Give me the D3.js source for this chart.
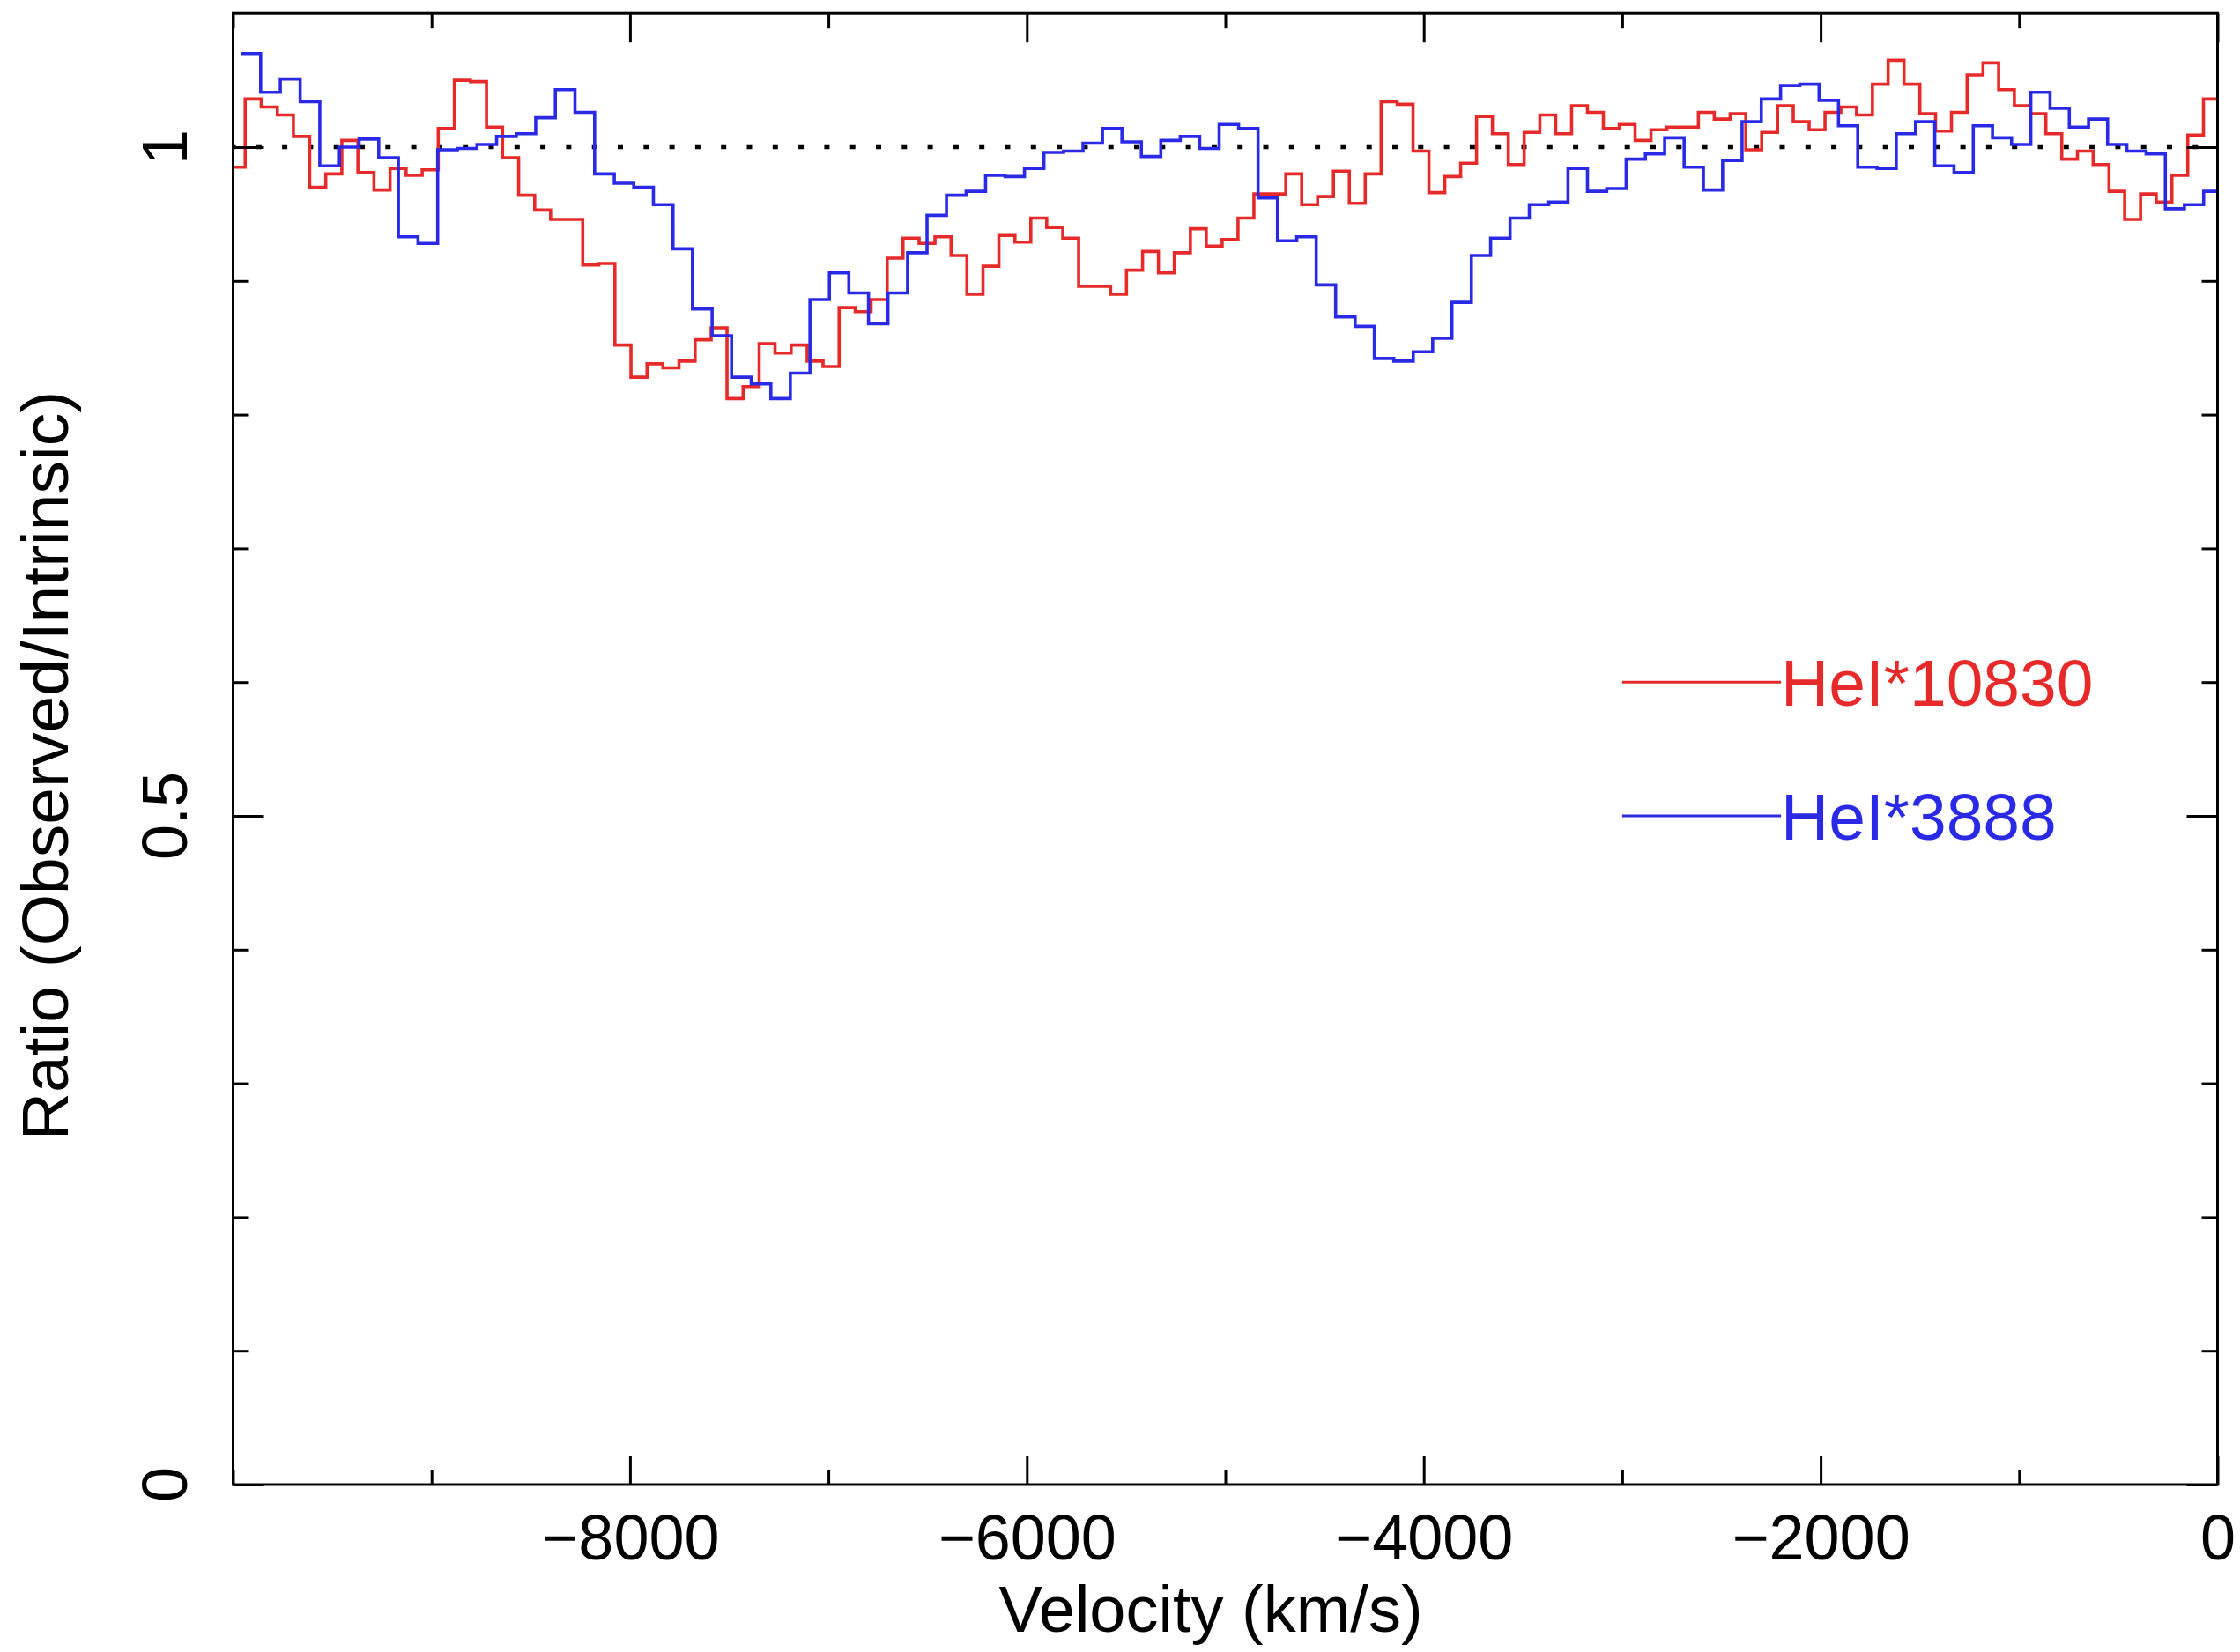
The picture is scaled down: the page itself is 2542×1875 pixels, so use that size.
<!DOCTYPE html>
<html><head><meta charset="utf-8">
<script src="https://cdn.jsdelivr.net/npm/d3@7"></script>
<style>
html,body{margin:0;padding:0;background:#fff;}
svg{display:block;}
text{font-family:"Liberation Sans",Arial,Helvetica,sans-serif;}
</style></head>
<body>
<script>
// ---------- DATA ----------
// HeI*10830 (red): bin edges (km/s) and ratio values
const redEdges = [-10020,-9939,-9858,-9777,-9696,-9614,-9533,-9452,-9371,-9290,-9209,-9128,-9047,-8966,-8885,-8804,-8723,-8642,-8561,-8480,-8400,-8319,-8238,-8157,-8076,-7995,-7914,-7834,-7753,-7672,-7591,-7511,-7430,-7349,-7269,-7188,-7107,-7027,-6946,-6865,-6785,-6704,-6624,-6543,-6463,-6382,-6302,-6221,-6141,-6060,-5980,-5900,-5819,-5739,-5658,-5578,-5498,-5417,-5337,-5257,-5176,-5096,-5016,-4936,-4856,-4775,-4695,-4615,-4535,-4455,-4375,-4295,-4215,-4134,-4054,-3974,-3894,-3814,-3734,-3654,-3574,-3494,-3415,-3335,-3255,-3175,-3095,-3015,-2935,-2855,-2775,-2696,-2616,-2536,-2456,-2377,-2297,-2217,-2138,-2058,-1978,-1898,-1819,-1739,-1660,-1580,-1500,-1421,-1341,-1262,-1182,-1103,-1024,-944,-865,-785,-706,-627,-547,-468,-388,-309,-230,-150,-71,8];
const redValues = [0.985,1.036,1.030,1.024,1.008,0.970,0.980,1.005,0.981,0.968,0.984,0.979,0.983,1.014,1.050,1.049,1.015,0.992,0.964,0.953,0.946,0.946,0.912,0.913,0.852,0.828,0.838,0.835,0.840,0.856,0.865,0.812,0.821,0.853,0.846,0.852,0.840,0.836,0.880,0.877,0.886,0.917,0.932,0.928,0.933,0.919,0.890,0.911,0.934,0.929,0.947,0.940,0.932,0.896,0.896,0.890,0.908,0.922,0.906,0.921,0.939,0.926,0.931,0.947,0.965,0.965,0.980,0.957,0.963,0.982,0.958,0.980,1.034,1.032,0.997,0.966,0.978,0.988,1.023,1.010,0.987,1.011,1.024,1.010,1.031,1.026,1.014,1.017,1.005,1.013,1.015,1.015,1.026,1.021,1.025,0.998,1.011,1.031,1.019,1.013,1.026,1.030,1.024,1.047,1.065,1.047,1.025,1.012,1.026,1.054,1.063,1.043,1.031,1.025,1.010,0.991,0.997,0.987,0.967,0.946,0.965,0.959,0.979,1.009,1.036];
// HeI*3888 (blue)
const blueEdges = [-9960,-9861,-9762,-9662,-9563,-9464,-9365,-9266,-9167,-9068,-8969,-8870,-8771,-8672,-8573,-8475,-8376,-8277,-8178,-8079,-7981,-7882,-7783,-7685,-7586,-7488,-7389,-7290,-7192,-7093,-6995,-6897,-6798,-6700,-6601,-6503,-6405,-6306,-6208,-6110,-6012,-5914,-5815,-5717,-5619,-5521,-5423,-5325,-5227,-5129,-5031,-4933,-4835,-4737,-4640,-4542,-4444,-4346,-4249,-4151,-4053,-3955,-3858,-3760,-3663,-3565,-3468,-3370,-3273,-3175,-3078,-2980,-2883,-2786,-2688,-2591,-2494,-2396,-2299,-2202,-2105,-2008,-1910,-1813,-1716,-1619,-1522,-1425,-1328,-1231,-1134,-1038,-941,-844,-747,-650,-554,-457,-360,-263,-167,-70,27];
const blueValues = [1.070,1.041,1.051,1.034,0.986,1.000,1.006,0.992,0.933,0.928,0.998,0.999,1.002,1.008,1.010,1.022,1.043,1.026,0.980,0.973,0.970,0.957,0.924,0.879,0.859,0.828,0.823,0.812,0.831,0.886,0.906,0.891,0.868,0.891,0.921,0.949,0.964,0.967,0.979,0.978,0.984,0.996,0.997,1.003,1.014,1.004,0.993,1.005,1.008,0.999,1.017,1.014,0.962,0.930,0.933,0.897,0.873,0.866,0.842,0.840,0.847,0.857,0.884,0.919,0.932,0.947,0.957,0.959,0.984,0.967,0.969,0.991,0.995,1.007,0.985,0.968,0.990,1.019,1.036,1.046,1.047,1.035,1.016,0.985,0.984,1.010,1.019,0.986,0.981,1.016,1.007,1.002,1.041,1.029,1.015,1.021,1.002,0.997,0.995,0.954,0.957,0.967];

const xMajorTicks = [-8000,-6000,-4000,-2000,0];
const xMinorTicks = [-10000,-9000,-7000,-5000,-3000,-1000];
const yMajorTicks = [0,0.5,1];
const yMinorTicks = [0.1,0.2,0.3,0.4,0.6,0.7,0.8,0.9];
const yTickLabels = ["0","0.5","1"];
const seriesNames = ["HeI*10830","HeI*3888"];
const legendY = [0.6,0.5];
const legendX = [-3000,-2200];

// ---------- LAYOUT ----------
const W = 2542, H = 1875;
const L = 264.5, R = 2516.5, T = 15.2, B = 1685;
const RED = "#e62a2a", BLUE = "#2a2ae6";
const x = d3.scaleLinear().domain([-10000,0]).range([L,R]);
const y = d3.scaleLinear().domain([0,1.1]).range([B,T]);

const svg = d3.select("body").append("svg").attr("width",W).attr("height",H);
svg.append("rect").attr("width",W).attr("height",H).attr("fill","#fff");

svg.append("clipPath").attr("id","clip").append("rect")
  .attr("x",L).attr("y",T).attr("width",R-L).attr("height",B-T);

// dotted unity line
svg.append("line").attr("x1",x(-10000)).attr("x2",x(0)).attr("y1",y(1)).attr("y2",y(1))
  .attr("stroke","#000").attr("stroke-width",4.5).attr("stroke-dasharray","6,23.3").attr("stroke-dashoffset",3);

function stepPts(edges, vals){
  const p = vals.map((v,i)=>[edges[i],v]);
  p.push([edges[vals.length], vals[vals.length-1]]);
  return p;
}
const line = d3.line().x(d=>x(d[0])).y(d=>y(d[1])).curve(d3.curveStepAfter);
const g = svg.append("g").attr("clip-path","url(#clip)");
g.append("path").attr("d",line(stepPts(redEdges,redValues))).attr("fill","none").attr("stroke",RED).attr("stroke-width",3.6);
g.append("path").attr("d",line(stepPts(blueEdges,blueValues))).attr("fill","none").attr("stroke",BLUE).attr("stroke-width",3.6);

// axes (inward ticks)
function styleAxis(sel){ sel.select(".domain").remove(); sel.selectAll("line").attr("stroke","#000").attr("stroke-width",3); }
const fs = 72;
svg.append("g").attr("transform",`translate(0,${B})`)
  .call(d3.axisBottom(x).tickValues(xMajorTicks).tickSize(-33).tickPadding(34).tickFormat(d3.format("d")))
  .call(styleAxis)
  .selectAll("text").attr("font-size",fs).attr("fill","#000").attr("font-family","Liberation Sans, Arial, sans-serif");
svg.append("g").attr("transform",`translate(0,${B})`)
  .call(d3.axisBottom(x).tickValues(xMinorTicks).tickSize(-17).tickFormat("")).call(styleAxis);
svg.append("g").attr("transform",`translate(0,${T})`)
  .call(d3.axisTop(x).tickValues(xMajorTicks).tickSize(-33).tickFormat("")).call(styleAxis);
svg.append("g").attr("transform",`translate(0,${T})`)
  .call(d3.axisTop(x).tickValues(xMinorTicks).tickSize(-17).tickFormat("")).call(styleAxis);
svg.append("g").attr("transform",`translate(${L},0)`)
  .call(d3.axisLeft(y).tickValues(yMajorTicks).tickSize(-35).tickFormat("")).call(styleAxis);
svg.append("g").attr("transform",`translate(${L},0)`)
  .call(d3.axisLeft(y).tickValues(yMinorTicks).tickSize(-18).tickFormat("")).call(styleAxis);
svg.append("g").attr("transform",`translate(${R},0)`)
  .call(d3.axisRight(y).tickValues(yMajorTicks).tickSize(-35).tickFormat("")).call(styleAxis);
svg.append("g").attr("transform",`translate(${R},0)`)
  .call(d3.axisRight(y).tickValues(yMinorTicks).tickSize(-18).tickFormat("")).call(styleAxis);

// frame
svg.append("rect").attr("x",L).attr("y",T).attr("width",R-L).attr("height",B-T)
  .attr("fill","none").attr("stroke","#000").attr("stroke-width",3);

// y tick labels (rotated)
yMajorTicks.forEach((v,i)=>{
  svg.append("text").attr("transform",`translate(212,${y(v)}) rotate(-90)`)
    .attr("text-anchor","middle").attr("font-size",fs).attr("fill","#000").text(yTickLabels[i]);
});

// axis titles
svg.append("text").attr("x",1374).attr("y",1852).attr("text-anchor","middle")
  .attr("font-size",74).attr("fill","#000").text("Velocity (km/s)");
svg.append("text").attr("transform",`translate(77,869) rotate(-90)`).attr("text-anchor","middle")
  .attr("font-size",75).attr("fill","#000").text("Ratio (Observed/Intrinsic)");

// legend
[RED,BLUE].forEach((c,i)=>{
  svg.append("line").attr("x1",x(legendX[0])).attr("x2",x(legendX[1])).attr("y1",y(legendY[i])).attr("y2",y(legendY[i]))
    .attr("stroke",c).attr("stroke-width",3);
  svg.append("text").attr("x",x(legendX[1])).attr("y",y(legendY[i])+27).attr("font-size",75)
    .attr("fill",c).text(seriesNames[i]);
});
</script>
</body></html>
